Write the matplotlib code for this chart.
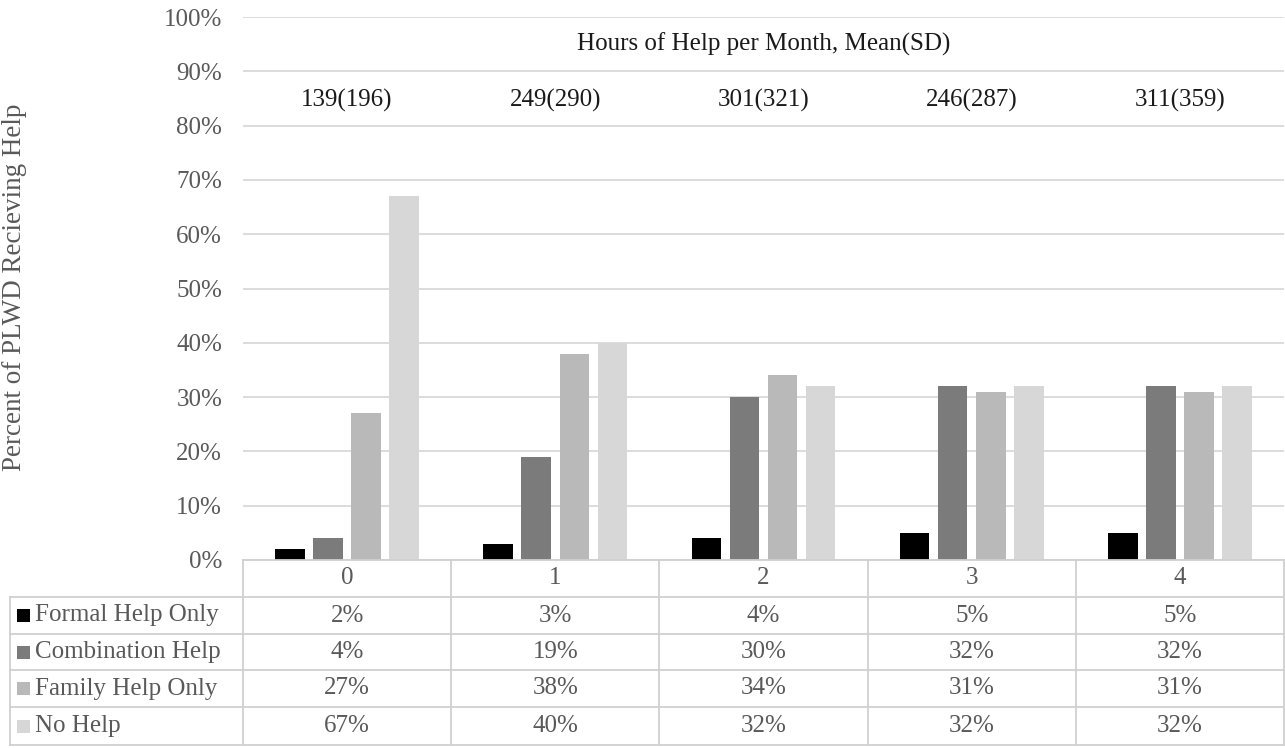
import matplotlib
matplotlib.use("Agg")
import matplotlib.pyplot as plt
from matplotlib.lines import Line2D
from matplotlib.patches import Rectangle

# Data
categories = ["0", "1", "2", "3", "4"]
hours_mean_sd = ["139(196)", "249(290)", "301(321)", "246(287)", "311(359)"]
series_names = ["Formal Help Only", "Combination Help", "Family Help Only", "No Help"]
formal_only = [2, 3, 4, 5, 5]
combination = [4, 19, 30, 32, 32]
family_only = [27, 38, 34, 31, 31]
no_help = [67, 40, 32, 32, 32]
series_values = [formal_only, combination, family_only, no_help]
colors = ["#000000", "#7b7b7b", "#b9b9b9", "#d7d7d7"]

W, H = 1285, 748
FS = 18
plt.rcParams["font.family"] = ["Liberation Serif", "DejaVu Serif"]
text_gray = "#595959"
grid_gray = "#d9d9d9"
table_gray = "#d0d0d0"

fig = plt.figure(figsize=(W / 100, H / 100), dpi=100)

def fx(px):
    return px / W

def fy(py):
    return 1 - py / H

x0, x1 = 243, 1284
y_top, y_zero = 17, 560
ax = fig.add_axes([fx(x0), fy(y_zero), fx(x1) - fx(x0), fy(y_top) - fy(y_zero)])

n = len(categories)
bar_w = 0.142
step = 0.183
for i, (vals, c) in enumerate(zip(series_values, colors)):
    offs = (i - 1.5) * step
    ax.bar([k + offs for k in range(n)], vals, width=bar_w, color=c, zorder=3)

ax.set_xlim(-0.5, n - 0.5)
ax.set_ylim(0, 100)
ax.set_yticks(range(0, 101, 10))
ax.set_yticklabels([f"{v}%" for v in range(0, 101, 10)], fontsize=FS, color=text_gray)
ax.tick_params(axis="y", length=0, pad=15)
ax.set_xticks([])
ax.grid(axis="y", color=grid_gray, linewidth=1.3, zorder=0)
for s in ax.spines.values():
    s.set_visible(False)

ax.text((n - 1) / 2, 95, "Hours of Help per Month, Mean(SD)", ha="center", va="center",
        fontsize=FS, color="#1a1a1a")
for k, lab in enumerate(hours_mean_sd):
    ax.text(k, 84.7, lab, ha="center", va="center", fontsize=FS, color="#1a1a1a")

fig.text(fx(15), fy(287), "Percent of PLWD Recieving Help", rotation=90, ha="center",
         va="center", fontsize=19.5, color=text_gray)

# Data table below the axis
col_edges = [x0 + (x1 - x0) * k / n for k in range(n + 1)]
row_edges = [560, 597, 634, 670, 707, 745]
left_edge = 10

def hline(y, xa, xb):
    fig.add_artist(Line2D([fx(xa), fx(xb)], [fy(y), fy(y)], color=table_gray, lw=1.3))

def vline(x, ya, yb):
    fig.add_artist(Line2D([fx(x), fx(x)], [fy(ya), fy(yb)], color=table_gray, lw=1.3))

hline(row_edges[0], x0, x1)
for y in row_edges[1:]:
    hline(y, left_edge, x1)
vline(left_edge, row_edges[1], row_edges[-1])
for x in col_edges:
    vline(x, row_edges[0], row_edges[-1])

# Header row with category labels
for k, cat in enumerate(categories):
    cx = (col_edges[k] + col_edges[k + 1]) / 2
    fig.text(fx(cx), fy((row_edges[0] + row_edges[1]) / 2), cat, ha="center",
             va="center", fontsize=FS, color=text_gray)

# Series rows
for r, (name, vals, c) in enumerate(zip(series_names, series_values, colors)):
    ya, yb = row_edges[r + 1], row_edges[r + 2]
    cy = (ya + yb) / 2
    key = 13
    fig.add_artist(Rectangle((fx(17), fy(cy + key / 2)), fx(key), key / H,
                             facecolor=c, edgecolor="none"))
    fig.text(fx(35), fy(cy), name, ha="left", va="center", fontsize=FS,
             color=text_gray)
    for k, v in enumerate(vals):
        cx = (col_edges[k] + col_edges[k + 1]) / 2
        fig.text(fx(cx), fy(cy), f"{v}%", ha="center", va="center", fontsize=FS,
                 color=text_gray)

fig.savefig("out.png", dpi=100)
